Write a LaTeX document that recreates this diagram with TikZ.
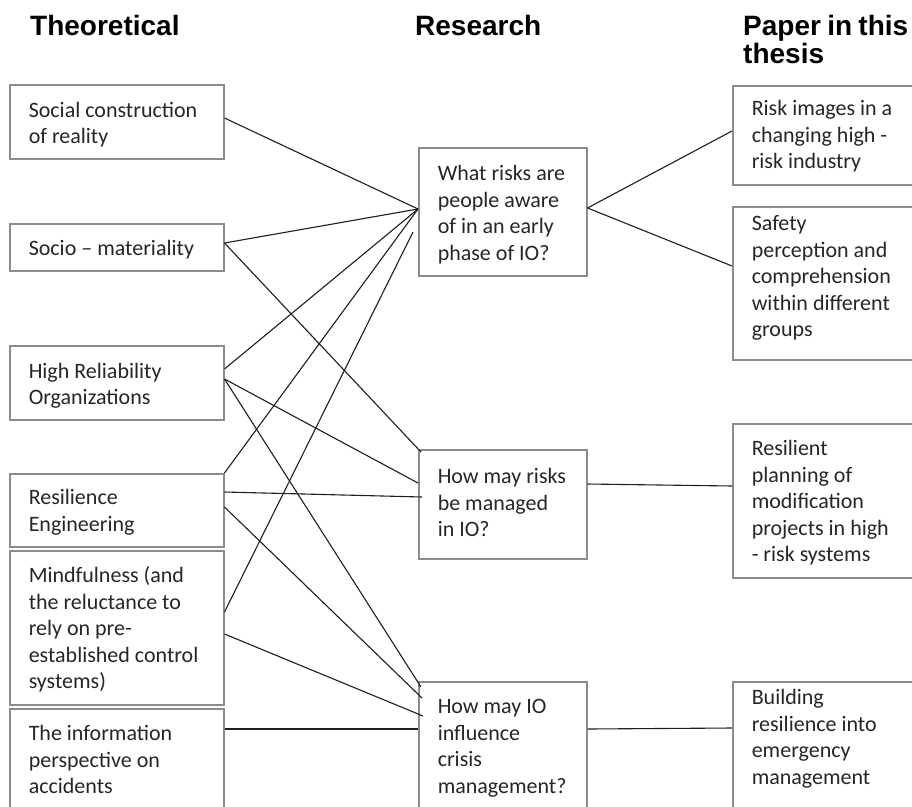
\documentclass[tikz,border=0pt]{standalone}
\usepackage{fontspec}
\setmainfont{Carlito}
\newfontfamily\headfont{Liberation Sans}
\usetikzlibrary{calc}

\definecolor{boxgray}{RGB}{140,140,140}
\definecolor{textgray}{RGB}{38,38,38}
\definecolor{linegray}{RGB}{30,30,30}

% #1 text width, #2 box height, #3 distance from top to first baseline, #4 lines
\newcommand\celltext[4]{\parbox[b][#2][t]{#1}{\raggedright\rule{0pt}{#3}#4}}

\begin{document}
\begin{tikzpicture}[x=1pt,y=-1pt,
  cell/.style={draw=boxgray, line width=1.5pt, fill=white, anchor=north west,
    inner xsep=19pt, inner ysep=0pt, text=textgray,
    font=\fontsize{22}{26.5}\selectfont},
  head/.style={anchor=base west, inner sep=0pt, text=black,
    font=\headfont\bfseries\fontsize{28}{28.3}\selectfont},
  link/.style={draw=linegray, line width=1.1pt}]

\useasboundingbox (0,0) rectangle (912,806);
\clip (0,0) rectangle (912,806);
\fill[white] (0,0) rectangle (912,806);

% column headings
\node[head] (hTheo) at (30,35) {Theoretical};
\node[head] (hRes) at (415,35) {Research};
\node[head] (hPap) at (743,35) {\parbox[t]{165pt}{Paper in this\\thesis}};

% theoretical perspectives
\node[cell] (soc) at (9,84) {\celltext{176pt}{74pt}{32.5pt}{Social construction\\of reality}};
\node[cell] (socio) at (9,223) {\celltext{176pt}{47pt}{32pt}{Socio – materiality}};
\node[cell] (hro) at (9,345) {\celltext{176pt}{74pt}{32.5pt}{High Reliability\\Organizations}};
\node[cell] (res) at (9,473) {\celltext{176pt}{73pt}{31pt}{Resilience\\Engineering}};
\node[cell] (mind) at (9,550) {\celltext{176pt}{154pt}{32pt}{Mindfulness (and\\the reluctance to\\rely on pre-\\established control\\systems)}};
\node[cell] (info) at (9,708) {\celltext{176pt}{110pt}{32pt}{The information\\perspective on\\accidents}};

% research questions
\node[cell] (what) at (418,147) {\celltext{130pt}{128pt}{33pt}{What risks are\\people aware\\of in an early\\phase of IO?}};
\node[cell] (how) at (418,449) {\celltext{130pt}{109pt}{34pt}{How may risks\\be managed\\in IO?}};
\node[cell] (io) at (418,681) {\celltext{130pt}{140pt}{32pt}{How may IO\\influence\\crisis\\management?}};

% papers
\node[cell] (img) at (732,85) {\celltext{170pt}{99pt}{30pt}{Risk images in a\\changing high -\\risk industry}};
\node[cell] (safe) at (732,206) {\celltext{170pt}{153pt}{24pt}{Safety\\perception and\\comprehension\\within different\\groups}};
\node[cell] (plan) at (732,423) {\celltext{170pt}{154pt}{32pt}{Resilient\\planning of\\modification\\projects in high\\- risk systems}};
\node[cell] (build) at (732,681) {\celltext{170pt}{140pt}{23pt}{Building\\resilience into\\emergency\\management}};

% meeting points on the first question
\coordinate (wL) at ($(what.north west)+(0,62)$);
\coordinate (wR) at ($(what.north east)+(0,61)$);

% theory -> research links
\draw[link] ($(soc.north east)+(0,34)$) -- (wL);
\draw[link] ($(socio.north east)+(0,20)$) -- (wL);
\draw[link] ($(socio.north east)+(0,20)$) -- ($(how.north west)+(3,3)$);
\draw[link] ($(hro.north east)+(0,24)$) -- (wL);
\draw[link] ($(hro.north east)+(0,34)$) -- ($(how.north west)+(0,34)$);
\draw[link] ($(hro.north east)+(0,34)$) -- ($(io.north west)+(3,6)$);
\draw[link] (res.north east) -- (wL);
\draw[link] ($(res.north east)+(0,19)$) -- ($(how.north west)+(4,48)$);
\draw[link] ($(res.north east)+(0,34)$) -- ($(io.north west)+(4,17)$);
\draw[link] ($(mind.north east)+(0,62)$) -- ($(what.north west)+(-5,85)$);
\draw[link] ($(mind.north east)+(0,84)$) -- ($(io.north west)+(5,35)$);
\draw[link] ($(info.north east)+(0,21)$) -- ($(io.north west)+(0,48)$);

% research -> paper links
\draw[link] (wR) -- ($(img.north west)+(0,46)$);
\draw[link] (wR) -- ($(safe.north west)+(0,60)$);
\draw[link] ($(how.north east)+(0,35)$) -- ($(plan.north west)+(0,63)$);
\draw[link] ($(io.north east)+(0,48)$) -- ($(build.north west)+(0,47)$);
\end{tikzpicture}
\end{document}
